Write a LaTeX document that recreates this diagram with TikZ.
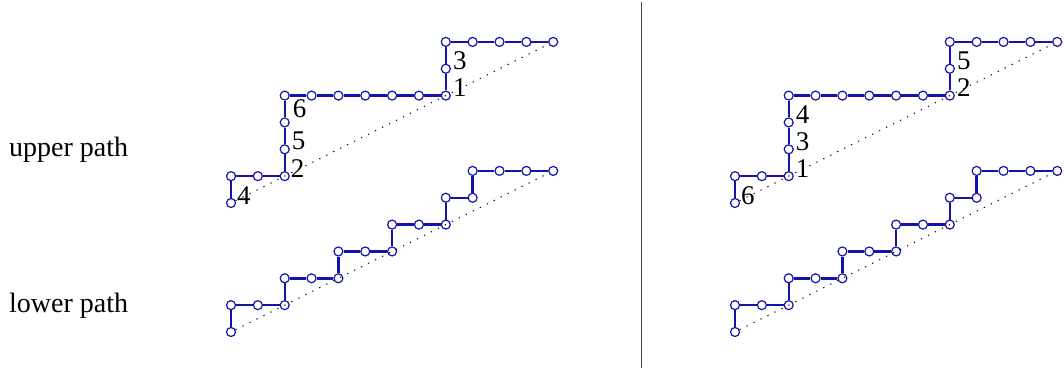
\documentclass[tikz,border=0pt]{standalone}
\usepackage{fontspec}
\setmainfont{Liberation Serif}
\definecolor{pathblue}{RGB}{20,20,170}
\definecolor{divgray}{RGB}{70,70,70}
\tikzset{
  vtx/.style={circle, draw=pathblue, fill=white, line width=1.2pt, minimum size=9pt, inner sep=0pt},
  pathedge/.style={draw=pathblue, line width=2.4pt},
  diag/.style={draw=black, line width=1.1pt, dash pattern=on 1.2pt off 6.6pt},
  steplabel/.style={anchor=base west, inner sep=0pt, font=\fontsize{27}{27}\selectfont},
  rowlabel/.style={anchor=base west, inner sep=0pt, font=\fontsize{28}{30}\selectfont},
  divider/.style={draw=divgray, line width=1pt},
}
\newcommand\latpath[2]{%
  \foreach \p [count=\i] in {#2} { \node[vtx] (#1-\i) at \p {}; }
  \foreach \i [evaluate=\i as \j using int(\i-1)] in {2,...,19} { \draw[pathedge] (#1-\j) -- (#1-\i); }
  \draw[diag] (#1-1) -- (#1-19);
}
\newcommand\upperpts{(0,0),(0,1),(1,1),(2,1),(2,2),(2,3),(2,4),(3,4),(4,4),(5,4),(6,4),(7,4),(8,4),(8,5),(8,6),(9,6),(10,6),(11,6),(12,6)}
\newcommand\lowerpts{(0,0),(0,1),(1,1),(2,1),(2,2),(3,2),(4,2),(4,3),(5,3),(6,3),(6,4),(7,4),(8,4),(8,5),(9,5),(9,6),(10,6),(11,6),(12,6)}
\begin{document}
\begin{tikzpicture}[x=1pt,y=-1pt]
\useasboundingbox (0,0) rectangle (1064,374);
% row labels
\node[rowlabel] (up) at (9,157) {upper path};
\node[rowlabel] (lo) at (9,312) {lower path};
% divider
\coordinate (dtop) at (641,2);
\coordinate (dbot) at (641,368);
\draw[divider] (dtop) -- (dbot);
% paths
\begin{scope}[shift={(231,203)}, x=26.85pt, y=26.85pt]
  \expandafter\latpath\expandafter{\expandafter L\expandafter U\expandafter}\expandafter{\upperpts}
\end{scope}
\begin{scope}[shift={(231,332)}, x=26.85pt, y=26.85pt]
  \expandafter\latpath\expandafter{\expandafter L\expandafter L\expandafter}\expandafter{\lowerpts}
\end{scope}
\begin{scope}[shift={(735,203)}, x=26.85pt, y=26.85pt]
  \expandafter\latpath\expandafter{\expandafter R\expandafter U\expandafter}\expandafter{\upperpts}
\end{scope}
\begin{scope}[shift={(735,332)}, x=26.85pt, y=26.85pt]
  \expandafter\latpath\expandafter{\expandafter R\expandafter L\expandafter}\expandafter{\lowerpts}
\end{scope}
% step labels, left
\node[steplabel] (la) at ([xshift=6pt,yshift=-1pt]LU-1.center) {4};
\node[steplabel] (lb) at ([xshift=6pt,yshift=-1pt]LU-4.center) {2};
\node[steplabel] (lc) at ([xshift=7pt,yshift=0pt]LU-5.center) {5};
\node[steplabel] (ld) at ([xshift=8pt,yshift=5pt]LU-6.center) {6};
\node[steplabel] (le) at ([xshift=7pt,yshift=-1pt]LU-13.center) {1};
\node[steplabel] (lf) at ([xshift=7pt,yshift=-1pt]LU-14.center) {3};
% step labels, right
\node[steplabel] (ra) at ([xshift=6pt,yshift=-1pt]RU-1.center) {6};
\node[steplabel] (rb) at ([xshift=7pt,yshift=-1pt]RU-4.center) {1};
\node[steplabel] (rc) at ([xshift=7pt,yshift=-1pt]RU-5.center) {3};
\node[steplabel] (rd) at ([xshift=7pt,yshift=-1pt]RU-6.center) {4};
\node[steplabel] (re) at ([xshift=7pt,yshift=-1pt]RU-13.center) {2};
\node[steplabel] (rf) at ([xshift=7pt,yshift=-1pt]RU-14.center) {5};
\end{tikzpicture}
\end{document}
